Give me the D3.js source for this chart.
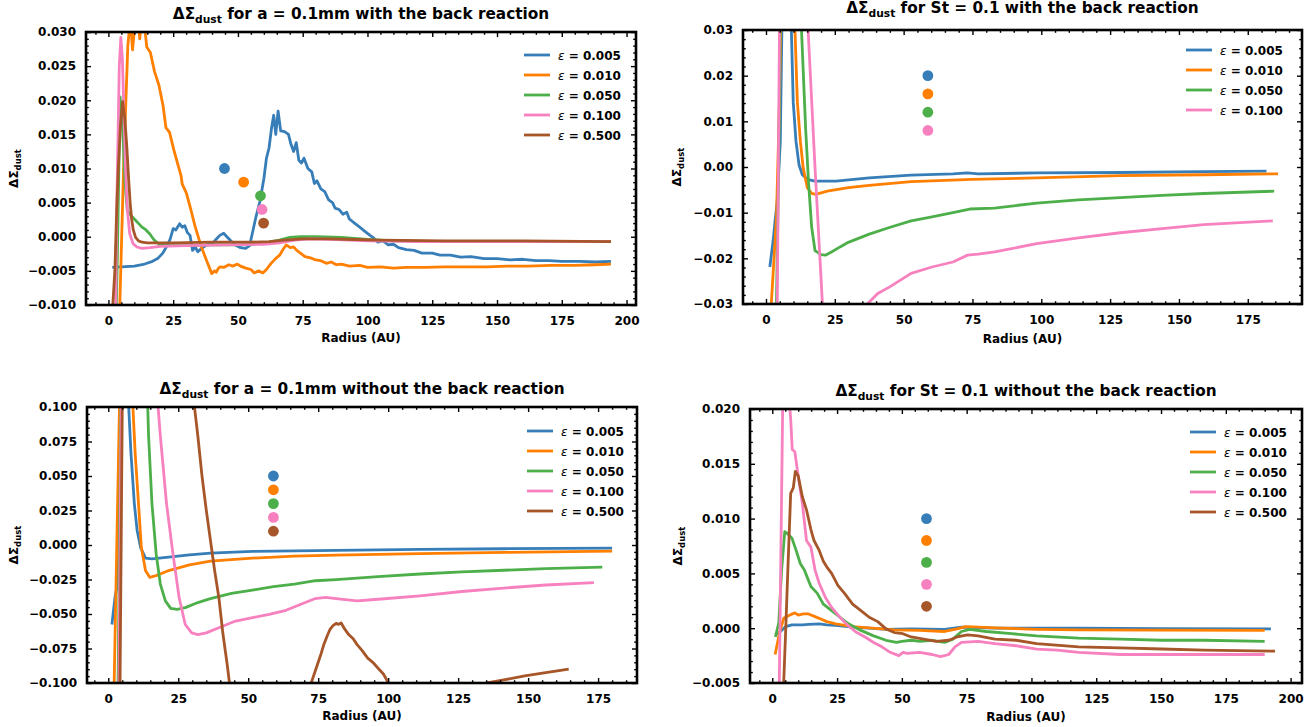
<!DOCTYPE html>
<html><head><meta charset="utf-8">
<script src="https://cdn.jsdelivr.net/npm/d3@7"></script>
<style>
body{margin:0;background:#fff}
text{font-family:"DejaVu Sans",sans-serif;font-weight:bold;fill:#000}
</style></head><body>
<svg id="c" width="1315" height="727"></svg>
<script>
// ---------- DATA (radius AU, ΔΣ_dust) ----------
const epsLabels = ["0.005","0.010","0.050","0.100","0.500"];
const colors = ["#377eb8","#ff7f00","#4daf4a","#f781bf","#a65628"];

// Panel A: a = 0.1mm with back reaction
const aBR_e005 = [[1.5,-0.0045],[5,-0.0044],[10,-0.0043],[14,-0.0040],[17,-0.0036],[19,-0.0032],[21,-0.0024],[22.5,-0.0014],[23.8,-0.0004],[25,0.0012],[26,0.0010],[27.5,0.0019],[28.5,0.0014],[29.5,0.0016],[30.5,0.0006],[31.5,0.0002],[32.5,-0.0020],[33.5,-0.0015],[34.5,-0.0022],[36,-0.0017],[38,-0.0012],[40,-0.0011],[41.5,-0.0004],[43,0.0002],[44.5,0.0005],[46,-0.0001],[47.5,-0.0007],[49,-0.0012],[51,-0.0016],[53,-0.0017],[54.5,-0.0013],[55.5,0.0004],[57,0.0030],[58.5,0.0052],[60,0.0085],[61,0.0115],[62,0.0130],[63,0.0160],[63.8,0.0178],[64.6,0.0150],[65.5,0.0184],[66.5,0.0155],[68,0.0154],[69.5,0.0150],[70.5,0.0135],[71.5,0.0125],[72.5,0.0138],[73.5,0.0112],[74.5,0.0108],[75.5,0.0115],[77,0.0100],[78.5,0.0095],[79.5,0.0078],[80.5,0.0082],[82,0.0070],[83.5,0.0066],[85,0.0054],[86.5,0.0050],[87.5,0.0042],[89,0.0040],[90.5,0.0033],[92,0.0036],[93,0.0026],[95,0.0020],[97,0.0014],[99,0.0008],[101,0.0002],[102.5,-0.0002],[104,-0.0008],[106,-0.0006],[108,-0.0012],[110,-0.0011],[112,-0.0016],[115,-0.0019],[118,-0.0020],[121,-0.0024],[125,-0.0024],[128,-0.0027],[132,-0.0027],[136,-0.0030],[140,-0.0029],[145,-0.0032],[150,-0.0032],[155,-0.0034],[160,-0.0033],[165,-0.0035],[170,-0.0035],[175,-0.0036],[182,-0.0036],[188,-0.0037],[194,-0.0036]];
const aBR_e010 = [[2,-0.03],[4.4,-0.010],[6,0.012],[7.5,0.028],[8.5,0.032],[9.3,0.0274],[10.2,0.031],[11,0.034],[12.1,0.0290],[13,0.033],[14.2,0.030],[14.8,0.0278],[16.2,0.0270],[17.8,0.0242],[19.5,0.0222],[21.1,0.0192],[22.2,0.0160],[23.6,0.0153],[25.2,0.0128],[26.8,0.0106],[28,0.0090],[28.5,0.0077],[30.1,0.0064],[31.8,0.0040],[33.4,0.0016],[35.8,-0.0014],[38.3,-0.0039],[39.9,-0.0054],[41,-0.0050],[41.6,-0.0052],[42.5,-0.0046],[43.2,-0.0044],[44.5,-0.0045],[46.5,-0.0041],[48,-0.0043],[49.8,-0.0040],[51,-0.0043],[53,-0.0046],[55,-0.0048],[56.3,-0.0053],[58,-0.0050],[59.6,-0.0053],[61,-0.0048],[62.8,-0.0039],[64.5,-0.0032],[66.1,-0.0027],[67.5,-0.0018],[68.6,-0.0012],[70.2,-0.0016],[71.5,-0.0015],[72.7,-0.0020],[74.5,-0.0025],[75.9,-0.0029],[78,-0.0031],[80,-0.0034],[82,-0.0035],[84.1,-0.0039],[86,-0.0037],[88,-0.0041],[90,-0.0040],[93,-0.0043],[97,-0.0042],[100,-0.0045],[105,-0.0044],[110,-0.0046],[115,-0.0045],[122,-0.0045],[130,-0.0044],[138,-0.0044],[146,-0.0044],[154,-0.0043],[162,-0.0043],[171,-0.0042],[180,-0.0042],[188,-0.0041],[194,-0.0040]];
const aBR_e050 = [[2,-0.03],[3.5,-0.002],[4.5,0.0205],[5.5,0.016],[6.4,0.008],[7.3,0.0038],[8.5,0.0032],[10,0.0026],[11.5,0.0020],[13,0.0014],[14.5,0.0010],[16,0.0004],[17.5,-0.0004],[19.5,-0.0011],[22,-0.0013],[30,-0.0013],[40,-0.0012],[50,-0.0012],[56,-0.0011],[62,-0.0008],[66,-0.0005],[70,-0.0001],[74,0.0000],[80,0.0000],[90,-0.0001],[100,-0.0004],[110,-0.0006],[130,-0.0007],[160,-0.0007],[194,-0.0007]];
const aBR_e100 = [[2.2,-0.03],[3.3,0.006],[4.2,0.025],[4.8,0.0292],[5.4,0.026],[6,0.018],[6.6,0.010],[7.3,0.0040],[8.2,0.0005],[9.5,-0.0010],[11,-0.0015],[13,-0.0017],[16,-0.0016],[20,-0.0014],[30,-0.0013],[45,-0.0012],[60,-0.0011],[66,-0.0009],[72,-0.0005],[78,-0.0003],[88,-0.0004],[100,-0.0006],[120,-0.0007],[194,-0.0007]];
const aBR_e500 = [[1.3,-0.03],[1.7,-0.010],[2.5,-0.0049],[3.2,0.004],[3.8,0.0098],[4.6,0.0160],[5.5,0.0198],[6.3,0.0175],[7.1,0.0132],[7.8,0.0085],[8.4,0.0049],[9,0.0025],[9.6,0.0010],[10.5,-0.0001],[11.6,-0.0006],[13,-0.0008],[15,-0.0009],[25,-0.0009],[40,-0.0008],[55,-0.0008],[62,-0.0007],[68,-0.0005],[75,-0.0003],[85,-0.0003],[95,-0.0004],[105,-0.0005],[130,-0.0006],[160,-0.0006],[194,-0.0007]];
const aBR_dotsR = [44.8,52.2,58.7,59.3,59.9];
const aBR_dotsV = [0.010,0.008,0.006,0.004,0.002];

// Panel B: St = 0.1 with back reaction
const stBR_e005 = [[1.4,-0.0219],[2.6,-0.0161],[3.3,-0.0118],[4.1,-0.0074],[5.2,0.0056],[6,0.04],[8,0.06],[9,0.035],[9.9,0.0142],[10.9,0.0056],[12,0.0005],[13.2,-0.0017],[15,-0.0027],[17.8,-0.0031],[25.4,-0.0031],[37.5,-0.0024],[52.7,-0.0018],[67.9,-0.0015],[73.2,-0.0013],[77,-0.0015],[98.3,-0.0013],[128.7,-0.0012],[159,-0.0010],[181.8,-0.0009]];
const stBR_e010 = [[1.4,-0.035],[2.6,-0.0233],[3.8,-0.011],[4.9,0.014],[5.6,0.04],[8,0.07],[10,0.04],[10.8,0.025],[11.4,0.0142],[12.5,0.0056],[13.5,-0.0002],[15,-0.0045],[16.6,-0.0058],[18.1,-0.0060],[22.3,-0.0053],[29.9,-0.0045],[37.5,-0.0040],[52.7,-0.0032],[74.7,-0.0027],[98.3,-0.0024],[128.7,-0.0019],[159,-0.0017],[186,-0.0015]];
const stBR_e050 = [[1.4,-0.05],[3.8,-0.03],[4.6,0.0],[5.3,0.04],[8,0.08],[12,0.05],[12.9,0.03],[13.5,0.0214],[14.4,0.0084],[15.5,-0.0038],[16.6,-0.0132],[17.8,-0.0183],[20,-0.0192],[21.6,-0.0193],[23.8,-0.0186],[26.9,-0.0175],[29.9,-0.0165],[37.5,-0.0147],[45.1,-0.0132],[52.7,-0.0118],[60.3,-0.0109],[67.9,-0.0100],[74,-0.0092],[83,-0.0090],[98.3,-0.0079],[113.5,-0.0072],[128.7,-0.0067],[143.9,-0.0062],[159,-0.0058],[184.6,-0.0053]];
const stBR_e100 = [[1.4,-0.08],[4.1,-0.03],[4.5,0.0],[4.9,0.03],[6,0.08],[12,0.1],[15.3,0.030],[17.8,0.000],[20.5,-0.030],[28,-0.045],[36.8,-0.0300],[40.6,-0.0277],[45.1,-0.0262],[52.7,-0.0233],[60.3,-0.0219],[67.9,-0.0208],[73.2,-0.0193],[77,-0.0191],[83.1,-0.0186],[98.3,-0.0168],[113.5,-0.0155],[128.7,-0.0144],[143.9,-0.0135],[159,-0.0126],[184.1,-0.0118]];
const stBR_dotsR = [58.8,58.8,58.8,58.8];
const stBR_dotsV = [0.020,0.016,0.012,0.008];

// Panel C: a = 0.1mm without back reaction
const aNB_e005 = [[1.3,-0.0576],[2.4,-0.038],[3.3,-0.028],[4.3,0.1],[5,0.2],[7,0.15],[7.3,0.1],[8.1,0.0668],[9.3,0.0302],[10.3,0.0107],[11.5,-0.0015],[13.3,-0.0095],[15.6,-0.0100],[21.6,-0.0088],[29,-0.0071],[36.5,-0.0059],[51.5,-0.0046],[81.4,-0.0039],[111.4,-0.0032],[141.3,-0.0027],[180,-0.0022]];
const aNB_e010 = [[1.3,-0.2],[2.1,-0.1],[4,0.1],[5,0.2],[8,0.15],[8.8,0.1],[9.6,0.0668],[10.8,0.0302],[11.8,-0.0015],[13.3,-0.0185],[14.8,-0.0234],[17.1,-0.0222],[21.6,-0.0185],[29,-0.0144],[36.5,-0.0117],[51.5,-0.0095],[66.5,-0.0080],[81.4,-0.0073],[111.4,-0.0063],[141.3,-0.0054],[180,-0.0044]];
const aNB_e050 = [[1.3,-0.3],[3.5,-0.1],[4.5,0.1],[6,0.3],[13.5,0.15],[14.1,0.1],[14.4,0.079],[15.6,0.0302],[17.1,-0.0063],[18.6,-0.0283],[20.4,-0.0405],[22.3,-0.0459],[24.6,-0.0466],[27.5,-0.0454],[32,-0.0417],[36.5,-0.0388],[44,-0.0351],[51.5,-0.0327],[59,-0.0302],[66.5,-0.0283],[74,-0.0259],[81.4,-0.0251],[96.4,-0.0229],[111.4,-0.0210],[126.3,-0.0195],[141.3,-0.0183],[156.3,-0.0171],[176.5,-0.0161]];
const aNB_e100 = [[1.3,-0.4],[3.8,-0.1],[4.6,0.1],[6,0.4],[17,0.15],[17.8,0.1],[18.6,0.079],[20.8,0.0302],[23.1,-0.0063],[25.3,-0.038],[27.5,-0.0576],[29.8,-0.0637],[32,-0.0649],[35,-0.0637],[39.5,-0.0600],[45.5,-0.0551],[51.5,-0.0527],[57.5,-0.0502],[63.5,-0.0473],[69.5,-0.0424],[74,-0.0388],[77.7,-0.0380],[81.4,-0.0388],[88.9,-0.0405],[96.4,-0.0393],[111.4,-0.0368],[126.3,-0.0337],[141.3,-0.0312],[156.3,-0.0290],[173.5,-0.0273]];
const aNB_e500 = [[1.3,-0.5],[4.2,-0.1],[5,0.1],[6,0.5],[30,0.12],[30.8,0.100],[32,0.079],[33.5,0.0498],[35,0.0254],[36.5,0.0034],[38,-0.0185],[39.5,-0.038],[41,-0.0649],[42.5,-0.0868],[43.3,-0.100],[50,-0.14],[60,-0.15],[72.5,-0.100],[74.7,-0.0868],[76,-0.0790],[77,-0.0722],[78.2,-0.0660],[79.2,-0.0612],[80.3,-0.0585],[81.4,-0.0568],[82.3,-0.0575],[83.2,-0.0565],[84.5,-0.0610],[85.9,-0.0649],[87.5,-0.0680],[88.9,-0.0722],[90.5,-0.0760],[92.7,-0.0820],[94.5,-0.0850],[96.4,-0.0893],[98.3,-0.0935],[100.1,-0.100],[110,-0.12],[125,-0.11],[135.3,-0.100],[141.3,-0.0978],[148.8,-0.0949],[156.3,-0.0924],[164.5,-0.0900]];
const aNB_dotsR = [59,59,59,59,59];
const aNB_dotsV = [0.05,0.04,0.03,0.02,0.01];

// Panel D: St = 0.1 without back reaction
const stNB_e005 = [[1.1,-0.0006],[2.7,-0.0004],[5.2,0.00015],[7.6,0.0003],[11.6,0.0003],[14,0.00035],[18.1,0.0004],[21,0.0003],[24.5,0.00025],[31,0.0001],[37.4,0.0],[43.9,-0.0001],[53.6,-0.00006],[66.5,-0.0001],[73,0.0001],[85.9,0.0],[118,0.0],[150,-0.00003],[192.4,-0.00006]];
const stNB_e010 = [[1.1,-0.0024],[2.7,-0.0005],[4.4,0.0009],[6.8,0.0012],[8.7,0.0014],[10,0.0012],[12,0.0013],[14,0.0013],[16,0.0011],[18.1,0.0009],[21,0.0006],[24.5,0.0004],[31,0.00015],[37.4,0.00003],[47.1,-0.00015],[56.8,-0.0002],[66.5,-0.0003],[71.3,-0.00006],[74.6,0.00015],[79.4,0.0001],[85.9,0.00003],[102,-0.0001],[118,-0.00015],[150,-0.00018],[190,-0.0002]];
const stNB_e050 = [[1.2,-0.0008],[2.5,0.0005],[3.6,0.0053],[4.8,0.0088],[6,0.0086],[7.6,0.0082],[9.2,0.0071],[10.8,0.0059],[12.4,0.0053],[14.9,0.0038],[17.3,0.0032],[19.7,0.0022],[22.9,0.0016],[26.1,0.0010],[29.4,0.0004],[34.2,-0.0002],[39.1,-0.0007],[43.9,-0.0011],[47.9,-0.0013],[50,-0.0012],[53.6,-0.0011],[57,-0.0012],[61.7,-0.0011],[66.5,-0.0013],[69.7,-0.0010],[73,-0.0003],[76.2,-0.0001],[82.6,-0.0003],[92.3,-0.0005],[102,-0.0007],[118.2,-0.0009],[134.3,-0.0010],[150.4,-0.0011],[166.6,-0.0011],[190,-0.0012]];
const stNB_e100 = [[1.5,-0.01],[2.7,-0.005],[4,0.02],[5,0.03],[6.8,0.02],[7.1,0.0191],[7.7,0.0163],[8.7,0.0161],[10,0.0139],[11.6,0.0114],[13.2,0.0080],[14.9,0.0074],[16.5,0.0053],[18.1,0.0041],[20.5,0.0028],[22.9,0.0019],[26.1,0.0010],[29.4,0.0002],[32.6,-0.0004],[35.8,-0.0008],[39.1,-0.0013],[42.3,-0.0017],[45.5,-0.0022],[48.8,-0.0025],[50.5,-0.0022],[52,-0.0023],[56.8,-0.0022],[61.7,-0.0024],[64.9,-0.0026],[68.1,-0.0024],[70.5,-0.0017],[73,-0.0013],[79.4,-0.0012],[85.9,-0.0014],[94,-0.0016],[102,-0.0019],[110,-0.0020],[118.2,-0.0022],[134.3,-0.0024],[150.4,-0.0024],[190,-0.0024]];
const stNB_e500 = [[3.5,-0.012],[4.4,-0.005],[5.2,0.000],[6,0.0053],[7.1,0.0123],[8.1,0.0128],[8.9,0.0143],[10,0.0139],[11.6,0.0120],[13.2,0.0108],[14.9,0.0090],[16.1,0.0080],[18.1,0.0071],[19.7,0.0061],[21.3,0.0055],[22.9,0.0050],[25.3,0.0039],[27.8,0.0032],[31,0.0022],[34.2,0.0016],[37.4,0.0010],[40.7,0.0006],[43.9,-0.00006],[47.1,-0.0004],[50.4,-0.0005],[53.6,-0.0008],[58.4,-0.0010],[63.3,-0.0012],[68.1,-0.0011],[71.3,-0.0008],[75.4,-0.0006],[79.4,-0.0007],[85.9,-0.0010],[94,-0.0011],[102,-0.0014],[118.2,-0.0017],[134.3,-0.0018],[150.4,-0.0019],[166.6,-0.0020],[194,-0.0021]];
const stNB_dotsR = [59.5,59.5,59.5,59.5,59.5];
const stNB_dotsV = [0.010,0.008,0.006,0.004,0.002];

// Tick values
const xTicks200 = [0,25,50,75,100,125,150,175,200];
const xTicks175 = [0,25,50,75,100,125,150,175];
const yTicksA = [-0.010,-0.005,0,0.005,0.010,0.015,0.020,0.025,0.030];
const yTicksB = [-0.03,-0.02,-0.01,0,0.01,0.02,0.03];
const yTicksC = [-0.100,-0.075,-0.050,-0.025,0,0.025,0.050,0.075,0.100];
const yTicksD = [-0.005,0,0.005,0.010,0.015,0.020];

// ---------- LAYOUT ----------
const panels = [
 {id:"A", l:86, r:636, t:32, b:305, xdom:[-8.65,203.65], ydom:[-0.01,0.03], xt:xTicks200, yt:yTicksA, yfmt:".3f",
  series:[aBR_e005,aBR_e010,aBR_e050,aBR_e100,aBR_e500], dR:aBR_dotsR, dV:aBR_dotsV,
  title:[" for a = 0.1mm with the back reaction"], ty:19, xly:342, yly:14, legX:524, legY:55},
 {id:"B", l:743, r:1302, t:30, b:304, xdom:[-8.35,194.7], ydom:[-0.03,0.03], xt:xTicks175, yt:yTicksB, yfmt:".2f",
  series:[stBR_e005,stBR_e010,stBR_e050,stBR_e100], dR:stBR_dotsR, dV:stBR_dotsV,
  title:[" for St = 0.1 with the back reaction"], ty:13, xly:343, yly:677, legX:1186, legY:50},
 {id:"C", l:87, r:637, t:407, b:683, xdom:[-7.6,188.9], ydom:[-0.1,0.1], xt:xTicks175, yt:yTicksC, yfmt:".3f",
  series:[aNB_e005,aNB_e010,aNB_e050,aNB_e100,aNB_e500], dR:aNB_dotsR, dV:aNB_dotsV,
  title:[" for a = 0.1mm without the back reaction"], ty:394, xly:720, yly:14, legX:527, legY:431},
 {id:"D", l:750, r:1302, t:409, b:683, xdom:[-8.6,204.4], ydom:[-0.005,0.02], xt:xTicks200, yt:yTicksD, yfmt:".3f",
  series:[stNB_e005,stNB_e010,stNB_e050,stNB_e100,stNB_e500], dR:stNB_dotsR, dV:stNB_dotsV,
  title:[" for St = 0.1 without the back reaction"], ty:396, xly:721, yly:678, legX:1190, legY:432}
];

const svg = d3.select("#c");

function minorVals(major){
  const step = major[1]-major[0], out=[];
  const lo = major[0]-step, hi = major[major.length-1]+step;
  for(let v=lo; v<=hi+1e-12; v+=step/5){
    const isMaj = major.some(m=>Math.abs(m-v)<step*1e-3);
    if(!isMaj) out.push(+v.toFixed(6));
  }
  return out;
}

panels.forEach(p=>{
  const g = svg.append("g");
  const x = d3.scaleLinear().domain(p.xdom).range([p.l,p.r]);
  const y = d3.scaleLinear().domain(p.ydom).range([p.b,p.t]);
  const cid = "clip"+p.id;
  svg.append("clipPath").attr("id",cid).append("rect")
    .attr("x",p.l).attr("y",p.t).attr("width",p.r-p.l).attr("height",p.b-p.t);

  const plot = g.append("g").attr("clip-path",`url(#${cid})`);
  const line = d3.line().x(d=>x(d[0])).y(d=>y(d[1]));
  p.series.forEach((s,i)=>{
    plot.append("path").attr("d",line(s)).attr("fill","none")
      .attr("stroke",colors[i]).attr("stroke-width",2.8)
      .attr("stroke-linejoin","round");
  });
  p.dR.forEach((r,i)=>{
    plot.append("circle").attr("cx",x(r)).attr("cy",y(p.dV[i])).attr("r",5.4)
      .attr("fill",colors[i]);
  });

  // axes with inward ticks
  const xMin = minorVals(p.xt).filter(v=>v>=p.xdom[0]&&v<=p.xdom[1]);
  const yMin = minorVals(p.yt).filter(v=>v>=p.ydom[0]-1e-9&&v<=p.ydom[1]+1e-9);
  const fmt = d3.format(p.yfmt);
  g.append("g").attr("transform",`translate(0,${p.b})`)
    .call(d3.axisBottom(x).tickValues(p.xt).tickSizeInner(-5).tickSizeOuter(0).tickPadding(11).tickFormat(d3.format("d")));
  g.append("g").attr("transform",`translate(0,${p.b})`)
    .call(d3.axisBottom(x).tickValues(xMin).tickSizeInner(-2.8).tickSizeOuter(0).tickFormat(""));
  g.append("g").attr("transform",`translate(0,${p.t})`)
    .call(d3.axisTop(x).tickValues(p.xt).tickSizeInner(-5).tickSizeOuter(0).tickFormat(""));
  g.append("g").attr("transform",`translate(0,${p.t})`)
    .call(d3.axisTop(x).tickValues(xMin).tickSizeInner(-2.8).tickSizeOuter(0).tickFormat(""));
  g.append("g").attr("transform",`translate(${p.l},0)`)
    .call(d3.axisLeft(y).tickValues(p.yt).tickSizeInner(-5).tickSizeOuter(0).tickPadding(10).tickFormat(fmt));
  g.append("g").attr("transform",`translate(${p.l},0)`)
    .call(d3.axisLeft(y).tickValues(yMin).tickSizeInner(-2.8).tickSizeOuter(0).tickFormat(""));
  g.append("g").attr("transform",`translate(${p.r},0)`)
    .call(d3.axisRight(y).tickValues(p.yt).tickSizeInner(-5).tickSizeOuter(0).tickFormat(""));
  g.append("g").attr("transform",`translate(${p.r},0)`)
    .call(d3.axisRight(y).tickValues(yMin).tickSizeInner(-2.8).tickSizeOuter(0).tickFormat(""));
  g.selectAll(".domain").remove();
  g.selectAll(".tick line").attr("stroke","#000").attr("stroke-width",1.4);
  g.selectAll(".tick text").attr("font-size",12).attr("font-family","DejaVu Sans").attr("font-weight","bold").attr("fill","#000");

  // spines
  g.append("rect").attr("x",p.l).attr("y",p.t).attr("width",p.r-p.l).attr("height",p.b-p.t)
    .attr("fill","none").attr("stroke","#000").attr("stroke-width",2.6);

  // title
  const cx = (p.l+p.r)/2;
  const t = g.append("text").attr("x",cx).attr("y",p.ty).attr("text-anchor","middle").attr("font-size",15.3);
  t.append("tspan").text("ΔΣ");
  t.append("tspan").attr("font-size",10.7).attr("dy",4).text("dust");
  t.append("tspan").attr("dy",-4).text(p.title[0]);

  // x label
  g.append("text").attr("x",cx).attr("y",p.xly).attr("text-anchor","middle").attr("font-size",12).text("Radius (AU)");
  // y label
  const cy = (p.t+p.b)/2;
  const yl = g.append("text").attr("transform",`translate(${p.yly+4},${cy}) rotate(-90)`)
    .attr("text-anchor","middle").attr("font-size",12);
  yl.append("tspan").text("ΔΣ");
  yl.append("tspan").attr("font-size",8.5).attr("dy",3).text("dust");

  // legend
  p.series.forEach((s,i)=>{
    const ly = p.legY + i*20;
    g.append("line").attr("x1",p.legX).attr("x2",p.legX+26).attr("y1",ly).attr("y2",ly)
      .attr("stroke",colors[i]).attr("stroke-width",2.8);
    const lt = g.append("text").attr("x",p.legX+34).attr("y",ly+4.5).attr("font-size",12);
    lt.append("tspan").attr("font-style","italic").attr("font-weight","normal").text("ε");
    lt.append("tspan").text(" = "+epsLabels[i]);
  });
});
</script></body></html>
